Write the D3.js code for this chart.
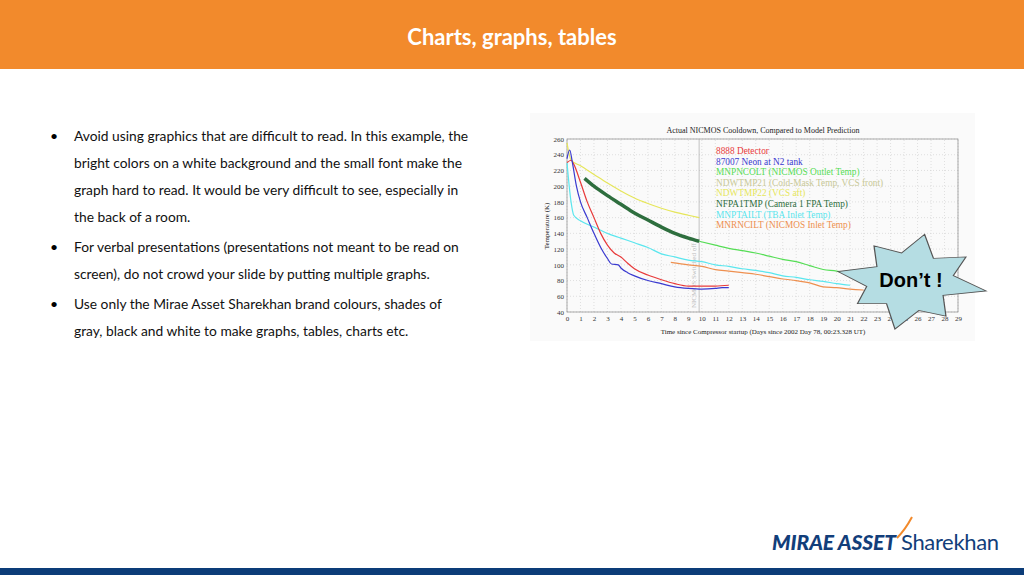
<!DOCTYPE html><html><head><meta charset="utf-8">
<script src="https://cdn.jsdelivr.net/npm/d3@7"></script>
<style>body{margin:0;background:#fff;}svg{display:block}</style></head><body>
<script>
const xTicks=d3.range(0,30);
const yTicks=d3.range(40,261,20);
const seriesNames=["8888 Detector","87007 Neon at N2 tank","MNPNCOLT (NICMOS Outlet Temp)","NDWTMP21 (Cold-Mask Temp, VCS front)","NDWTMP22 (VCS aft)","NFPA1TMP (Camera 1 FPA Temp)","MNPTAILT (TBA Inlet Temp)","MNRNCILT (NICMOS Inlet Temp)"];
const seriesColors=["#e83a3a","#3a3ad0","#55dd55","#c8c896","#e6e65a","#2e6e3e","#5ae6ee","#ee9050"];
const redData=[[0,230],[0.3,233],[0.5,228],[1,205],[1.5,180],[2,160],[2.5,140],[3,125],[3.5,115],[4,110],[4.5,102],[5,95],[6,87],[7,81],[8,76],[9,73],[10,73],[11,73],[12,74]];
const blueData=[[0,235],[0.2,246],[0.4,230],[0.7,200],[1,180],[1.5,160],[2,140],[2.5,122],[3,108],[3.3,101],[3.8,100],[4,96],[4.5,90],[5,86],[6,80],[7,76],[8,72],[9,70],[10,69],[11,70],[11.5,71],[12,71]];
const yellowData=[[0,255],[0.3,233],[1,226],[2,215],[3,204],[4,194],[5,185],[6,178],[7,172],[8,167],[9,163],[9.8,160]];
const fpaData=[[1.3,210],[2,200],[3,188],[4,177],[5,166],[6,157],[7,148],[8,140],[9,134],[9.8,130]];
const greenData=[[9.8,130],[11,125],[12,121],[13,118],[14,115],[15,111],[16,107],[17,104],[18,99],[19,94],[20,92],[21,88],[22,84],[23,80]];
const cyanData=[[0,230],[0.3,180],[0.5,163],[1,156],[2,148],[3,140],[4,134],[5,128],[6,122],[7,114],[8,110],[9,106],[10,104],[11,100],[12,98],[13,95],[14,93],[15,90],[16,86],[17,84],[18,81],[19,79],[20,76],[21,74]];
const orangeData=[[7.7,103],[9,100],[10,98],[11,94],[12,92],[13,90],[14,88],[15,85],[16,82],[17,80],[18,77],[19,72],[20,71],[21,69],[22,68]];
const bullets=[["Avoid using graphics that are difficult to read. In this example, the","bright colors on a white background and the small font make the","graph hard to read. It would be very difficult to see, especially in","the back of a room."],["For verbal presentations (presentations not meant to be read on","screen), do not crowd your slide by putting multiple graphs."],["Use only the Mirae Asset Sharekhan brand colours, shades of","gray, black and white to make graphs, tables, charts etc."]];

const svg=d3.select("body").append("svg").attr("width",1024).attr("height",575);
svg.append("rect").attr("width",1024).attr("height",69).attr("fill","#f28a2c");
svg.append("text").attr("x",512).attr("y",45).attr("text-anchor","middle").attr("fill","#fff").attr("font-family","Lato").attr("font-weight","bold").attr("font-size",22).text("Charts, graphs, tables");
svg.append("rect").attr("y",568).attr("width",1024).attr("height",7).attr("fill","#0c3c78");
let ly=141;
bullets.forEach(b=>{svg.append("text").attr("x",50).attr("y",ly).attr("font-family","Lato").attr("font-size",14).text("•");
 b.forEach(l=>{svg.append("text").attr("x",74).attr("y",ly).attr("font-family","Lato").attr("font-size",13.8).attr("fill","#111").text(l);ly+=27;});ly+=3;});
// logo
svg.append("text").attr("x",772).attr("y",550).attr("font-family","Lato").attr("font-weight","900").attr("font-style","italic").attr("font-size",21).attr("fill","#123e7a").attr("textLength",124).text("MIRAE ASSET");
svg.append("text").attr("x",901).attr("y",550).attr("font-family","Lato").attr("font-size",22).attr("fill","#123e7a").attr("textLength",98).text("Sharekhan");
svg.append("path").attr("d","M897,538 Q905,530 912,517").attr("stroke","#f28a2c").attr("stroke-width",2).attr("fill","none");

// chart
svg.append("rect").attr("x",530).attr("y",113).attr("width",445).attr("height",228).attr("fill","#fafafa");
const x=d3.scaleLinear().domain([0,29]).range([567,958]);
const y=d3.scaleLinear().domain([40,260]).range([312,139]);
const g=svg.append("g");
g.selectAll(".vg").data(xTicks).join("line").attr("x1",d=>x(d)).attr("x2",d=>x(d)).attr("y1",y(40)).attr("y2",y(260)).attr("stroke","#ccc").attr("stroke-dasharray","1,2").attr("stroke-width",0.6);
g.selectAll(".hg").data(yTicks).join("line").attr("x1",x(0)).attr("x2",x(29)).attr("y1",d=>y(d)).attr("y2",d=>y(d)).attr("stroke","#ccc").attr("stroke-dasharray","1,2").attr("stroke-width",0.6);
g.append("rect").attr("x",x(0)).attr("y",y(260)).attr("width",x(29)-x(0)).attr("height",y(40)-y(260)).attr("fill","none").attr("stroke","#888").attr("stroke-width",0.7);
g.append("g").attr("transform",`translate(0,${y(40)})`).call(d3.axisBottom(x).tickValues(xTicks).tickSize(0).tickPadding(4)).call(a=>{a.select(".domain").remove();a.selectAll("text").attr("font-family","Liberation Serif").attr("font-size",7).attr("fill","#333");});
g.append("g").attr("transform",`translate(${x(0)},0)`).call(d3.axisLeft(y).tickValues(yTicks).tickSize(0).tickPadding(3)).call(a=>{a.select(".domain").remove();a.selectAll("text").attr("font-family","Liberation Serif").attr("font-size",7).attr("fill","#333");});
g.append("line").attr("x1",x(9.8)).attr("x2",x(9.8)).attr("y1",y(40)).attr("y2",y(260)).attr("stroke","#aaa").attr("stroke-width",0.7);
g.append("text").attr("transform",`translate(${x(9.6)},${y(45)}) rotate(-90)`).attr("font-family","Liberation Serif").attr("font-size",7).attr("fill","#bbb").text("NICMOS Switched off");
svg.append("text").attr("x",763).attr("y",133).attr("text-anchor","middle").attr("font-family","Liberation Serif").attr("font-size",8).attr("fill","#222").text("Actual NICMOS Cooldown, Compared to Model Prediction");
svg.append("text").attr("x",763).attr("y",334).attr("text-anchor","middle").attr("font-family","Liberation Serif").attr("font-size",7).attr("fill","#222").text("Time since Compressor startup (Days since 2002 Day 78, 00:23.328 UT)");
svg.append("text").attr("transform","translate(549,226) rotate(-90)").attr("text-anchor","middle").attr("font-family","Liberation Serif").attr("font-size",7).attr("fill","#222").text("Temperature (K)");
const line=d3.line().x(d=>x(d[0])).y(d=>y(d[1])).curve(d3.curveMonotoneX);
const sets=[[yellowData,4,1.2],[cyanData,6,1.2],[orangeData,7,1.2],[greenData,2,1.2],[redData,0,1.2],[blueData,1,1.2],[fpaData,5,3.5]];
sets.forEach(([d,i,w])=>g.append("path").attr("d",line(d)).attr("fill","none").attr("stroke",seriesColors[i]).attr("stroke-width",w));
seriesNames.forEach((n,i)=>svg.append("text").attr("x",716).attr("y",154+i*10.6).attr("font-family","Liberation Serif").attr("font-size",9.3).attr("fill",seriesColors[i]).text(n));
// starburst
const radii=[70,40,64,42,74,38,62,44,72,40,60,42,70,38,62,42];
const star=d3.lineRadial().angle((d,i)=>i*2*Math.PI/radii.length+0.2).radius(d=>d).curve(d3.curveLinearClosed);
svg.append("path").attr("transform","translate(910,281) scale(1.05,0.68)").attr("d",star(radii)).attr("fill","#b5dde3").attr("stroke","#555").attr("stroke-width",1.2);
svg.append("text").attr("x",911).attr("y",287).attr("text-anchor","middle").attr("font-family","Liberation Sans").attr("font-weight","bold").attr("font-size",20).text("Don’t !");
</script></body></html>
